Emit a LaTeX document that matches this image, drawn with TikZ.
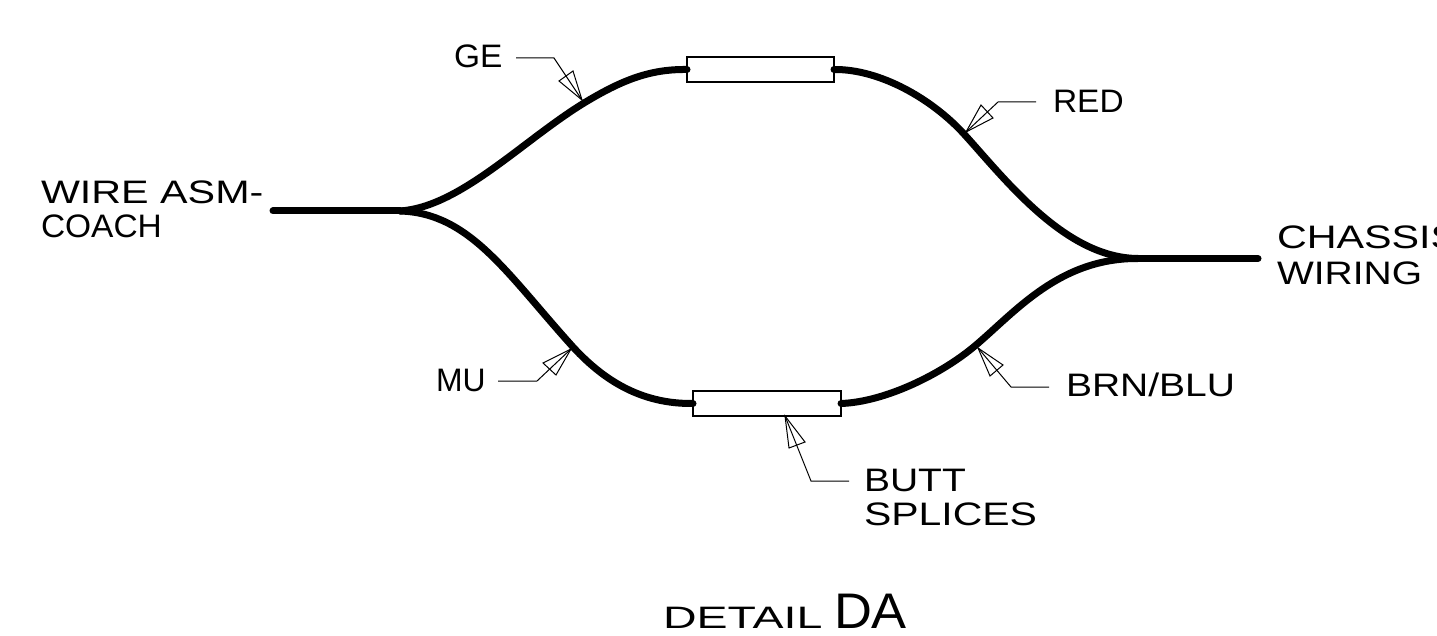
\documentclass[tikz,border=0pt]{standalone}
\usepackage{fontspec}
\setmainfont{Liberation Sans}
\newcommand{\widetxt}[2]{\scalebox{#1}[1]{#2}}
\tikzset{
  wire/.style={line width=7pt,line cap=round,black},
  leader/.style={line width=1pt,black},
  splice/.style={draw=black,line width=1.2pt,fill=white,minimum height=25pt,inner sep=0pt,outer sep=0pt},
  lab/.style={anchor=base west,inner sep=0pt,outer sep=0pt,font=\fontsize{32.5}{32.5}\selectfont}
}
\begin{document}
\begin{tikzpicture}[x=1pt,y=-1pt]
\useasboundingbox (0,0) rectangle (1437,636);
\fill[white] (0,0) rectangle (1437,636);
% splices
\node[splice,minimum width=147pt] (s1) at (760.5,69.5) {};
\node[splice,minimum width=148pt] (s2) at (767,403.5) {};
% junctions and wire ends
\coordinate (jl) at (400,211);
\coordinate (jr) at (1138,258.5);
\coordinate (el) at (273,211);
\coordinate (er) at (1258,258.5);
\coordinate (p1) at (584,103);
\coordinate (p2) at (573,347);
\coordinate (p3) at (964,134);
\coordinate (p4) at (976,345);
% leader tips
\coordinate (t1) at (582,100);
\coordinate (t2) at (571,349);
\coordinate (t3) at (966,132);
\coordinate (t4) at (978,348);
\coordinate (t5) at (785,416);
% wires
\draw[wire] (el) -- (jl);
\draw[wire] (jr) -- (er);
\draw[wire] (jl) .. controls (460,207) and (522,141) .. (p1) .. controls (622,80) and (650,69) .. (s1.west);
\draw[wire] (jl) .. controls (470,213) and (507,274) .. (p2) .. controls (607,384) and (645,404) .. (s2.west);
\draw[wire] (s1.east) .. controls (880,69) and (932,99) .. (p3) .. controls (1005,179) and (1065,258) .. (jr);
\draw[wire] (s2.east) .. controls (885,402) and (942,374) .. (p4) .. controls (1016,311) and (1060,258) .. (jr);
% labels
\node[lab] (wire1) at (41,203.5) {\widetxt{1.27}{WIRE ASM-}};
\node[lab] (wire2) at (41,237.5) {\widetxt{1.03}{COACH}};
\node[lab] (chas1) at (1277,248.5) {\widetxt{1.27}{CHASSIS}};
\node[lab] (chas2) at (1277,284.5) {\widetxt{1.20}{WIRING}};
\node[lab] (ge) at (454,68) {\widetxt{1.03}{GE}};
\node[lab] (red) at (1053,112.5) {\widetxt{1.03}{RED}};
\node[lab] (mu) at (436,391) {\widetxt{0.98}{MU}};
\node[lab] (brn) at (1066,396.5) {\widetxt{1.20}{BRN/BLU}};
\node[lab] (butt1) at (864,491.5) {\widetxt{1.20}{BUTT}};
\node[lab] (butt2) at (864,525.5) {\widetxt{1.26}{SPLICES}};
\node[lab,font=\fontsize{31}{31}\selectfont] (det) at (663,628) {\widetxt{1.5}{DETAIL}};
\node[lab,font=\fontsize{50}{50}\selectfont,text depth=0pt] (da) at (834,628) {\widetxt{1.05}{DA}};
% leaders
\coordinate (l1) at (516,58); \coordinate (k1) at (554,58);
\coordinate (l2) at (498,381); \coordinate (k2) at (537,381);
\coordinate (l3) at (1036,102); \coordinate (k3) at (998,102);
\coordinate (l4) at (1049,387); \coordinate (k4) at (1011,387);
\coordinate (l5) at (849,481); \coordinate (k5) at (811,481);
\draw[leader] (l1) -- (k1) -- (t1);
\draw[leader] (t1) -- (559,81) -- (573,71) -- cycle;
\draw[leader] (l2) -- (k2) -- (t2);
\draw[leader] (t2) -- (543,363) -- (556,375) -- cycle;
\draw[leader] (l3) -- (k3) -- (t3);
\draw[leader] (t3) -- (981,105) -- (993,118) -- cycle;
\draw[leader] (l4) -- (k4) -- (t4);
\draw[leader] (t4) -- (990,376) -- (1003,365) -- cycle;
\draw[leader] (l5) -- (k5) -- (t5);
\draw[leader] (t5) -- (789,448) -- (805,442) -- cycle;
\end{tikzpicture}
\end{document}
